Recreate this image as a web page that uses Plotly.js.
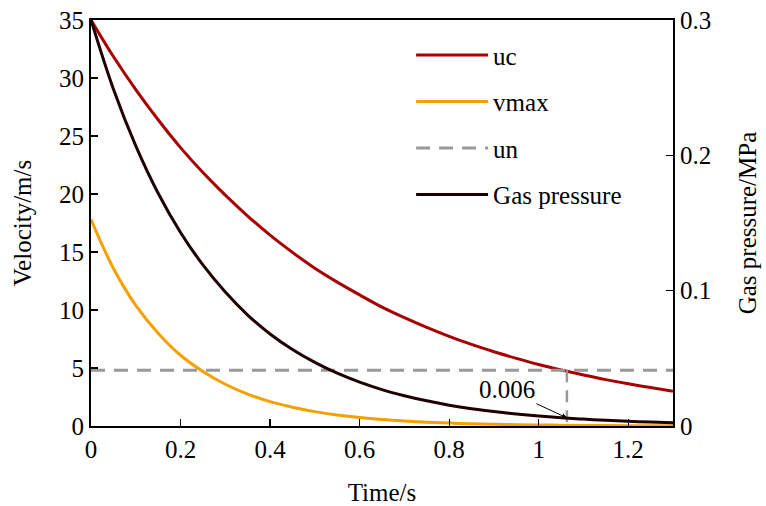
<!DOCTYPE html>
<html>
<head>
<meta charset="utf-8">
<script src="https://cdn.plot.ly/plotly-3.0.1.min.js"></script>
<style>html,body{margin:0;padding:0;background:#fff;}#chart{width:766px;height:506px;}</style>
</head>
<body>
<div id="chart"></div>
<script>
// Time (s)
var time = [0, 0.05, 0.1, 0.15, 0.2, 0.25, 0.3, 0.35, 0.4, 0.45, 0.5, 0.55, 0.6, 0.65, 0.7,
            0.75, 0.8, 0.85, 0.9, 0.95, 1.0, 1.05, 1.1, 1.15, 1.2, 1.25, 1.3];
// uc velocity (m/s)
var uc = [35, 31.85, 29.0, 26.4, 24.0, 21.85, 19.9, 18.1, 16.45, 14.97, 13.6, 12.4, 11.3, 10.25, 9.34,
          8.5, 7.73, 7.04, 6.4, 5.83, 5.3, 4.83, 4.4, 4.0, 3.64, 3.31, 3.0];
// vmax velocity (m/s)
var vmax = [17.8, 13.6, 10.4, 8.0, 6.1, 4.7, 3.6, 2.75, 2.1, 1.62, 1.24, 0.95, 0.73, 0.56, 0.43,
            0.33, 0.25, 0.19, 0.15, 0.115, 0.09, 0.068, 0.05, 0.04, 0.03, 0.023, 0.02];
// un threshold velocity (m/s)
var unX = [0, 1.3];
var unY = [4.8, 4.8];
// Gas pressure (MPa)
var gas = [0.300, 0.249, 0.207, 0.172, 0.143, 0.119, 0.099, 0.082, 0.068, 0.0565, 0.047, 0.039, 0.0324, 0.0269, 0.0224,
           0.0186, 0.0154, 0.0128, 0.0107, 0.0089, 0.0074, 0.0061, 0.0051, 0.0042, 0.0035, 0.0029, 0.0024];
// marked point where uc reaches un
var markT = 1.063;
var markP = 0.006;
var markLabel = "0.006";

var FONT = "Liberation Serif, Times New Roman, serif";
var FS = 25;

var traces = [
  {x: time, y: uc, name: "uc", type: "scatter", mode: "lines", line: {color: "#A80000", width: 3, shape: "spline"}, legendgroup: "a"},
  {x: time, y: vmax, name: "vmax", type: "scatter", mode: "lines", line: {color: "#F5A000", width: 3, shape: "spline"}, legendgroup: "b"},
  {x: unX, y: unY, name: "un", type: "scatter", mode: "lines", line: {color: "#999999", width: 3, dash: "14px,9px"}, legendgroup: "c"},
  {x: time, y: gas, name: "Gas pressure", type: "scatter", mode: "lines", yaxis: "y2", line: {color: "#1E0000", width: 3, shape: "spline"}, legendgroup: "d"},
  {x: [markT, markT], y: [unY[0], 0], type: "scatter", mode: "lines", showlegend: false, line: {color: "#999999", width: 2.5, dash: "12px,8px"}, hoverinfo: "skip"}
];

var axisCommon = {
  showline: true, linecolor: "#000", linewidth: 2,
  ticks: "inside", ticklen: 7, tickwidth: 1.2, tickcolor: "#000",
  showgrid: false, zeroline: false,
  tickfont: {family: FONT, size: FS, color: "#000"}
};

var layout = {
  width: 766, height: 506,
  margin: {l: 91, r: 93, t: 20, b: 80},
  paper_bgcolor: "#fff", plot_bgcolor: "#fff",
  font: {family: FONT, size: FS, color: "#000"},
  xaxis: Object.assign({}, axisCommon, {
    range: [0, 1.3], dtick: 0.2, tick0: 0, mirror: true,
    title: {text: "Time/s", font: {family: FONT, size: FS}, standoff: 22}
  }),
  yaxis: Object.assign({}, axisCommon, {
    range: [0, 35], dtick: 5, tick0: 0,
    title: {text: "Velocity/m/s", font: {family: FONT, size: FS}, standoff: 20}
  }),
  yaxis2: Object.assign({}, axisCommon, {
    overlaying: "y", side: "right", range: [0, 0.3], dtick: 0.1, tick0: 0,
    title: {text: "Gas pressure/MPa", font: {family: FONT, size: FS}, standoff: 28}
  }),
  showlegend: true,
  legend: {
    x: 0.55, y: 0.97, xanchor: "left", yanchor: "top",
    bgcolor: "rgba(0,0,0,0)", borderwidth: 0,
    font: {family: FONT, size: FS, color: "#000"},
    tracegroupgap: 11, itemwidth: 72, traceorder: "grouped"
  },
  annotations: [{
    x: markT, y: markP, xref: "x", yref: "y2",
    text: markLabel, showarrow: true, arrowhead: 2, arrowsize: 1, arrowwidth: 1, arrowcolor: "#000",
    ax: -60, ay: -28, font: {family: FONT, size: FS, color: "#000"}
  }]
};

Plotly.newPlot("chart", traces, layout, {displayModeBar: false, staticPlot: true});
</script>
</body>
</html>
